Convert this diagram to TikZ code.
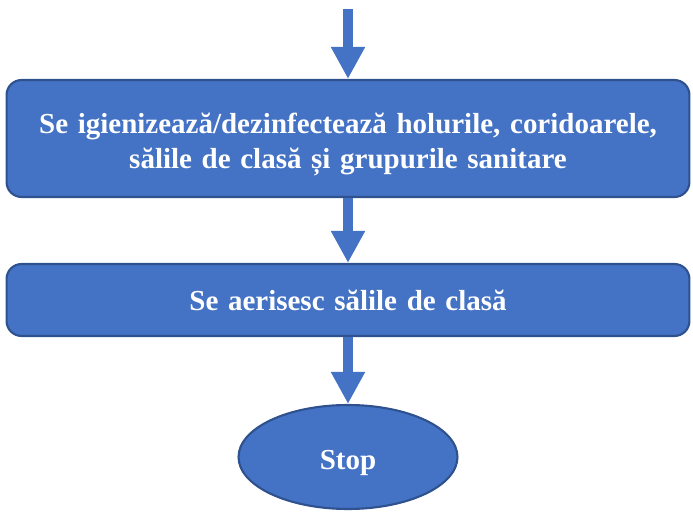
\documentclass[tikz,border=0pt]{standalone}
\usepackage{fontspec}
\setmainfont{Liberation Serif}
\usetikzlibrary{arrows.meta,shapes.geometric}

\definecolor{boxblue}{HTML}{4472C4}
\definecolor{edgeblue}{HTML}{2F528F}

\begin{document}
\begin{tikzpicture}[x=0.02cm,y=-0.02cm,
    stepbox/.style={draw=edgeblue, line width=1.2pt, fill=boxblue, rounded corners=0.3cm,
        text=white, font=\fontsize{16.5}{20}\selectfont\bfseries, align=center,
        inner sep=0pt, text width=13.66cm, minimum width=13.66cm},
    flow/.style={draw=boxblue, line width=5.7pt,
        -{Triangle[width=18.2pt, length=18.2pt]}}]

        % page frame
        \useasboundingbox (0,0) rectangle (693,513);

        % the boxes
        \coordinate (start) at (348,9);
        \node[stepbox, minimum height=2.34cm] (clean) at (348,138.5)
            {\raisebox{-3.4pt}[\height][\depth]{\parbox{13.66cm}{\centering
            Se igienizează/dezinfectează holurile, coridoarele,\\sălile de clasă și grupurile sanitare}}};
        \node[stepbox, minimum height=1.44cm] (air) at (348,300) {Se aerisesc sălile de clasă};
        \node[ellipse, draw=edgeblue, line width=1.2pt, fill=boxblue, text=white,
            font=\fontsize{16.5}{20}\selectfont\bfseries, inner sep=0pt,
            minimum width=4.38cm, minimum height=2.08cm] (stop) at (348,457)
            {\raisebox{-3.4pt}[\height][\depth]{Stop}};

        % the arrows
        \draw[flow] (start) -- (clean.north);
        \draw[flow] (clean.south) -- (air.north);
        \draw[flow] (air.south) -- (stop.north);

\end{tikzpicture}
\end{document}
